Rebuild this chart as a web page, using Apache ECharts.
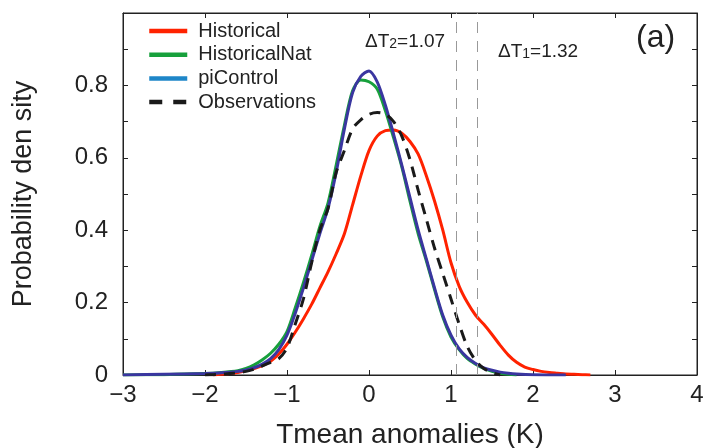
<!DOCTYPE html>
<html>
<head>
<meta charset="utf-8">
<script src="https://cdn.jsdelivr.net/npm/echarts@6/dist/echarts.min.js"></script>
<style>
  html, body {margin: 0; padding: 0; background: #fff;}
  #main {width: 708px; height: 448px;}
</style>
</head>
<body>
<div id="main"></div>
<script>
// values (x in K, y = probability density)
var histX = [-1.9,-1.8,-1.7,-1.6,-1.5,-1.4,-1.3,-1.2,-1.1,-1.0,-0.9,-0.8,-0.7,-0.6,-0.5,-0.4,-0.3,-0.2,-0.1,0.0,0.1,0.2,0.3,0.4,0.5,0.6,0.7,0.8,0.9,1.0,1.1,1.2,1.3,1.4,1.5,1.6,1.7,1.8,1.9,2.0,2.1,2.2,2.3,2.4,2.5,2.6,2.7];
var histY = [0,0.002,0.004,0.007,0.012,0.018,0.026,0.038,0.058,0.085,0.118,0.155,0.195,0.24,0.285,0.335,0.39,0.47,0.55,0.62,0.66,0.675,0.677,0.668,0.645,0.61,0.55,0.48,0.4,0.31,0.245,0.2,0.165,0.14,0.112,0.082,0.055,0.035,0.022,0.015,0.01,0.007,0.005,0.003,0.002,0.001,0];

var natX = [-3.0,-2.5,-2.0,-1.8,-1.6,-1.5,-1.4,-1.3,-1.2,-1.1,-1.0,-0.9,-0.8,-0.7,-0.6,-0.5,-0.4,-0.3,-0.2,-0.1,0.0,0.1,0.2,0.3,0.4,0.5,0.6,0.7,0.8,0.9,1.0,1.1,1.2,1.3,1.4,1.5,1.6,1.7,1.8];
var natY = [0,0.001,0.004,0.007,0.012,0.018,0.028,0.042,0.06,0.085,0.12,0.185,0.255,0.33,0.41,0.475,0.58,0.69,0.785,0.815,0.81,0.79,0.73,0.655,0.575,0.48,0.39,0.315,0.235,0.16,0.105,0.07,0.045,0.03,0.018,0.01,0.005,0.002,0];

var ctlX = [-3.0,-2.5,-2.0,-1.8,-1.6,-1.5,-1.4,-1.3,-1.2,-1.1,-1.0,-0.9,-0.8,-0.7,-0.6,-0.5,-0.4,-0.3,-0.2,-0.1,0.0,0.1,0.2,0.3,0.4,0.5,0.6,0.7,0.8,0.9,1.0,1.1,1.2,1.3,1.4,1.5,1.6,1.7,1.8,2.0,2.4];
var ctlY = [0,0.002,0.004,0.006,0.01,0.014,0.02,0.03,0.045,0.07,0.11,0.17,0.24,0.315,0.39,0.46,0.56,0.68,0.78,0.825,0.84,0.81,0.745,0.665,0.58,0.49,0.4,0.32,0.24,0.165,0.11,0.072,0.048,0.032,0.02,0.013,0.008,0.005,0.003,0.001,0];

var obsX = [-2.0,-1.9,-1.8,-1.7,-1.6,-1.5,-1.4,-1.3,-1.2,-1.1,-1.0,-0.9,-0.8,-0.7,-0.6,-0.5,-0.4,-0.3,-0.2,-0.1,0.0,0.1,0.2,0.3,0.4,0.5,0.6,0.7,0.8,0.9,1.0,1.1,1.2,1.3,1.4,1.5,1.6];
var obsY = [0,0.001,0.002,0.004,0.006,0.01,0.016,0.025,0.035,0.045,0.075,0.14,0.21,0.31,0.4,0.46,0.56,0.62,0.68,0.705,0.72,0.725,0.72,0.7,0.66,0.595,0.51,0.43,0.35,0.28,0.21,0.14,0.078,0.04,0.018,0.007,0];

var deltaT = [1.07, 1.32];
var yLabels = ['0', '0.2', '0.4', '0.6', '0.8'];

function pairs(xs, ys) {
    var out = [];
    for (var i = 0; i < xs.length; i++) out.push([xs[i], ys[i]]);
    return out;
}

var font = "'Liberation Sans', Arial, sans-serif";
var ink = '#222';
var myChart = echarts.init(document.getElementById('main'));

var option = {
    animation: false,
    backgroundColor: '#fff',
    textStyle: {fontFamily: font},
    grid: {left: 123, right: 11, top: 13, bottom: 73, containLabel: false, outerBoundsMode: 'none',
           show: true, borderColor: ink, borderWidth: 1},
    legend: {
        orient: 'vertical',
        left: 147, top: 21, padding: 0,
        itemWidth: 38, itemHeight: 20, itemGap: 3.7,
        itemStyle: {opacity: 0},
        lineStyle: {width: 4.5},
        textStyle: {fontSize: 20, lineHeight: 20, color: ink, fontFamily: font, padding: [0, 0, 0, 6]},
        data: [
            {name: 'Historical'},
            {name: 'HistoricalNat'},
            {name: 'piControl', lineStyle: {color: '#1e86c8'}},
            {name: 'Observations', lineStyle: {type: [13, 11]}}
        ]
    },
    xAxis: [{
        type: 'value', min: -3, max: 4, interval: 1,
        name: 'Tmean anomalies (K)', nameLocation: 'middle', nameGap: 46,
        nameTextStyle: {fontSize: 28, color: ink, fontFamily: font},
        axisLine: {onZero: false, lineStyle: {color: ink}},
        axisTick: {inside: true, length: 5, lineStyle: {color: ink}},
        axisLabel: {fontSize: 24, color: ink, margin: 8, fontFamily: font,
            formatter: function (v) { return String(v).replace('-', '\u2212'); }},
        splitLine: {show: false}
    }, {
        type: 'value', min: -3, max: 4, interval: 1, position: 'top',
        axisLine: {onZero: false, lineStyle: {color: ink}},
        axisTick: {inside: true, length: 5, lineStyle: {color: ink}},
        axisLabel: {show: false}, splitLine: {show: false}
    }],
    yAxis: [{
        type: 'value', min: 0, max: 1, interval: 0.1,
        name: 'Probability den sity', nameLocation: 'middle', nameGap: 86,
        nameTextStyle: {fontSize: 27, color: ink, fontFamily: font},
        axisLine: {show: true, onZero: false, lineStyle: {color: ink}},
        axisTick: {inside: true, length: 5, lineStyle: {color: ink}},
        axisLabel: {fontSize: 24, color: ink, margin: 15, fontFamily: font,
            formatter: function (v) {
                var s = String(Math.round(v * 10) / 10);
                return yLabels.indexOf(s) >= 0 ? s : '';
            }},
        splitLine: {show: false}
    }, {
        type: 'value', min: 0, max: 1, interval: 0.1, position: 'right',
        axisLine: {show: true, onZero: false, lineStyle: {color: ink}},
        axisTick: {inside: true, length: 5, lineStyle: {color: ink}},
        axisLabel: {show: false}, splitLine: {show: false}
    }],
    series: [{
        name: 'Historical', type: 'line', data: pairs(histX, histY),
        smooth: 0.3, symbol: 'none', color: '#ff2200',
        lineStyle: {width: 3, color: '#ff2200'},
        markLine: {
            silent: true, symbol: 'none', label: {show: false},
            lineStyle: {color: '#999', type: [11, 8], width: 1},
            data: deltaT.map(function (d) { return {xAxis: d}; })
        }
    }, {
        name: 'HistoricalNat', type: 'line', data: pairs(natX, natY),
        smooth: 0.3, symbol: 'none', color: '#17a03c',
        lineStyle: {width: 3, color: '#17a03c'}
    }, {
        name: 'piControl', type: 'line', data: pairs(ctlX, ctlY),
        smooth: 0.3, symbol: 'none', color: '#3a36a0',
        lineStyle: {width: 3, color: '#3a36a0'}
    }, {
        name: 'Observations', type: 'line', data: pairs(obsX, obsY),
        smooth: 0.3, symbol: 'none', color: '#1a1a1a',
        lineStyle: {width: 3, color: '#1a1a1a', type: [11, 8]}
    }],
    graphic: [{
        type: 'text', left: 365, top: 32,
        style: {
            text: '{a|\u0394T}{s|2}{a|=1.07}',
            rich: {
                a: {fontSize: 19, fill: ink, fontFamily: font},
                s: {fontSize: 14, fill: ink, fontFamily: font, verticalAlign: 'bottom'}
            }
        }
    }, {
        type: 'text', left: 498, top: 42,
        style: {
            text: '{a|\u0394T}{s|1}{a|=1.32}',
            rich: {
                a: {fontSize: 19, fill: ink, fontFamily: font},
                s: {fontSize: 14, fill: ink, fontFamily: font, verticalAlign: 'bottom'}
            }
        }
    }, {
        type: 'text', left: 636, top: 22,
        style: {text: '(a)', fontSize: 32, fill: ink, fontFamily: font}
    }]
};

myChart.setOption(option);
</script>
</body>
</html>
